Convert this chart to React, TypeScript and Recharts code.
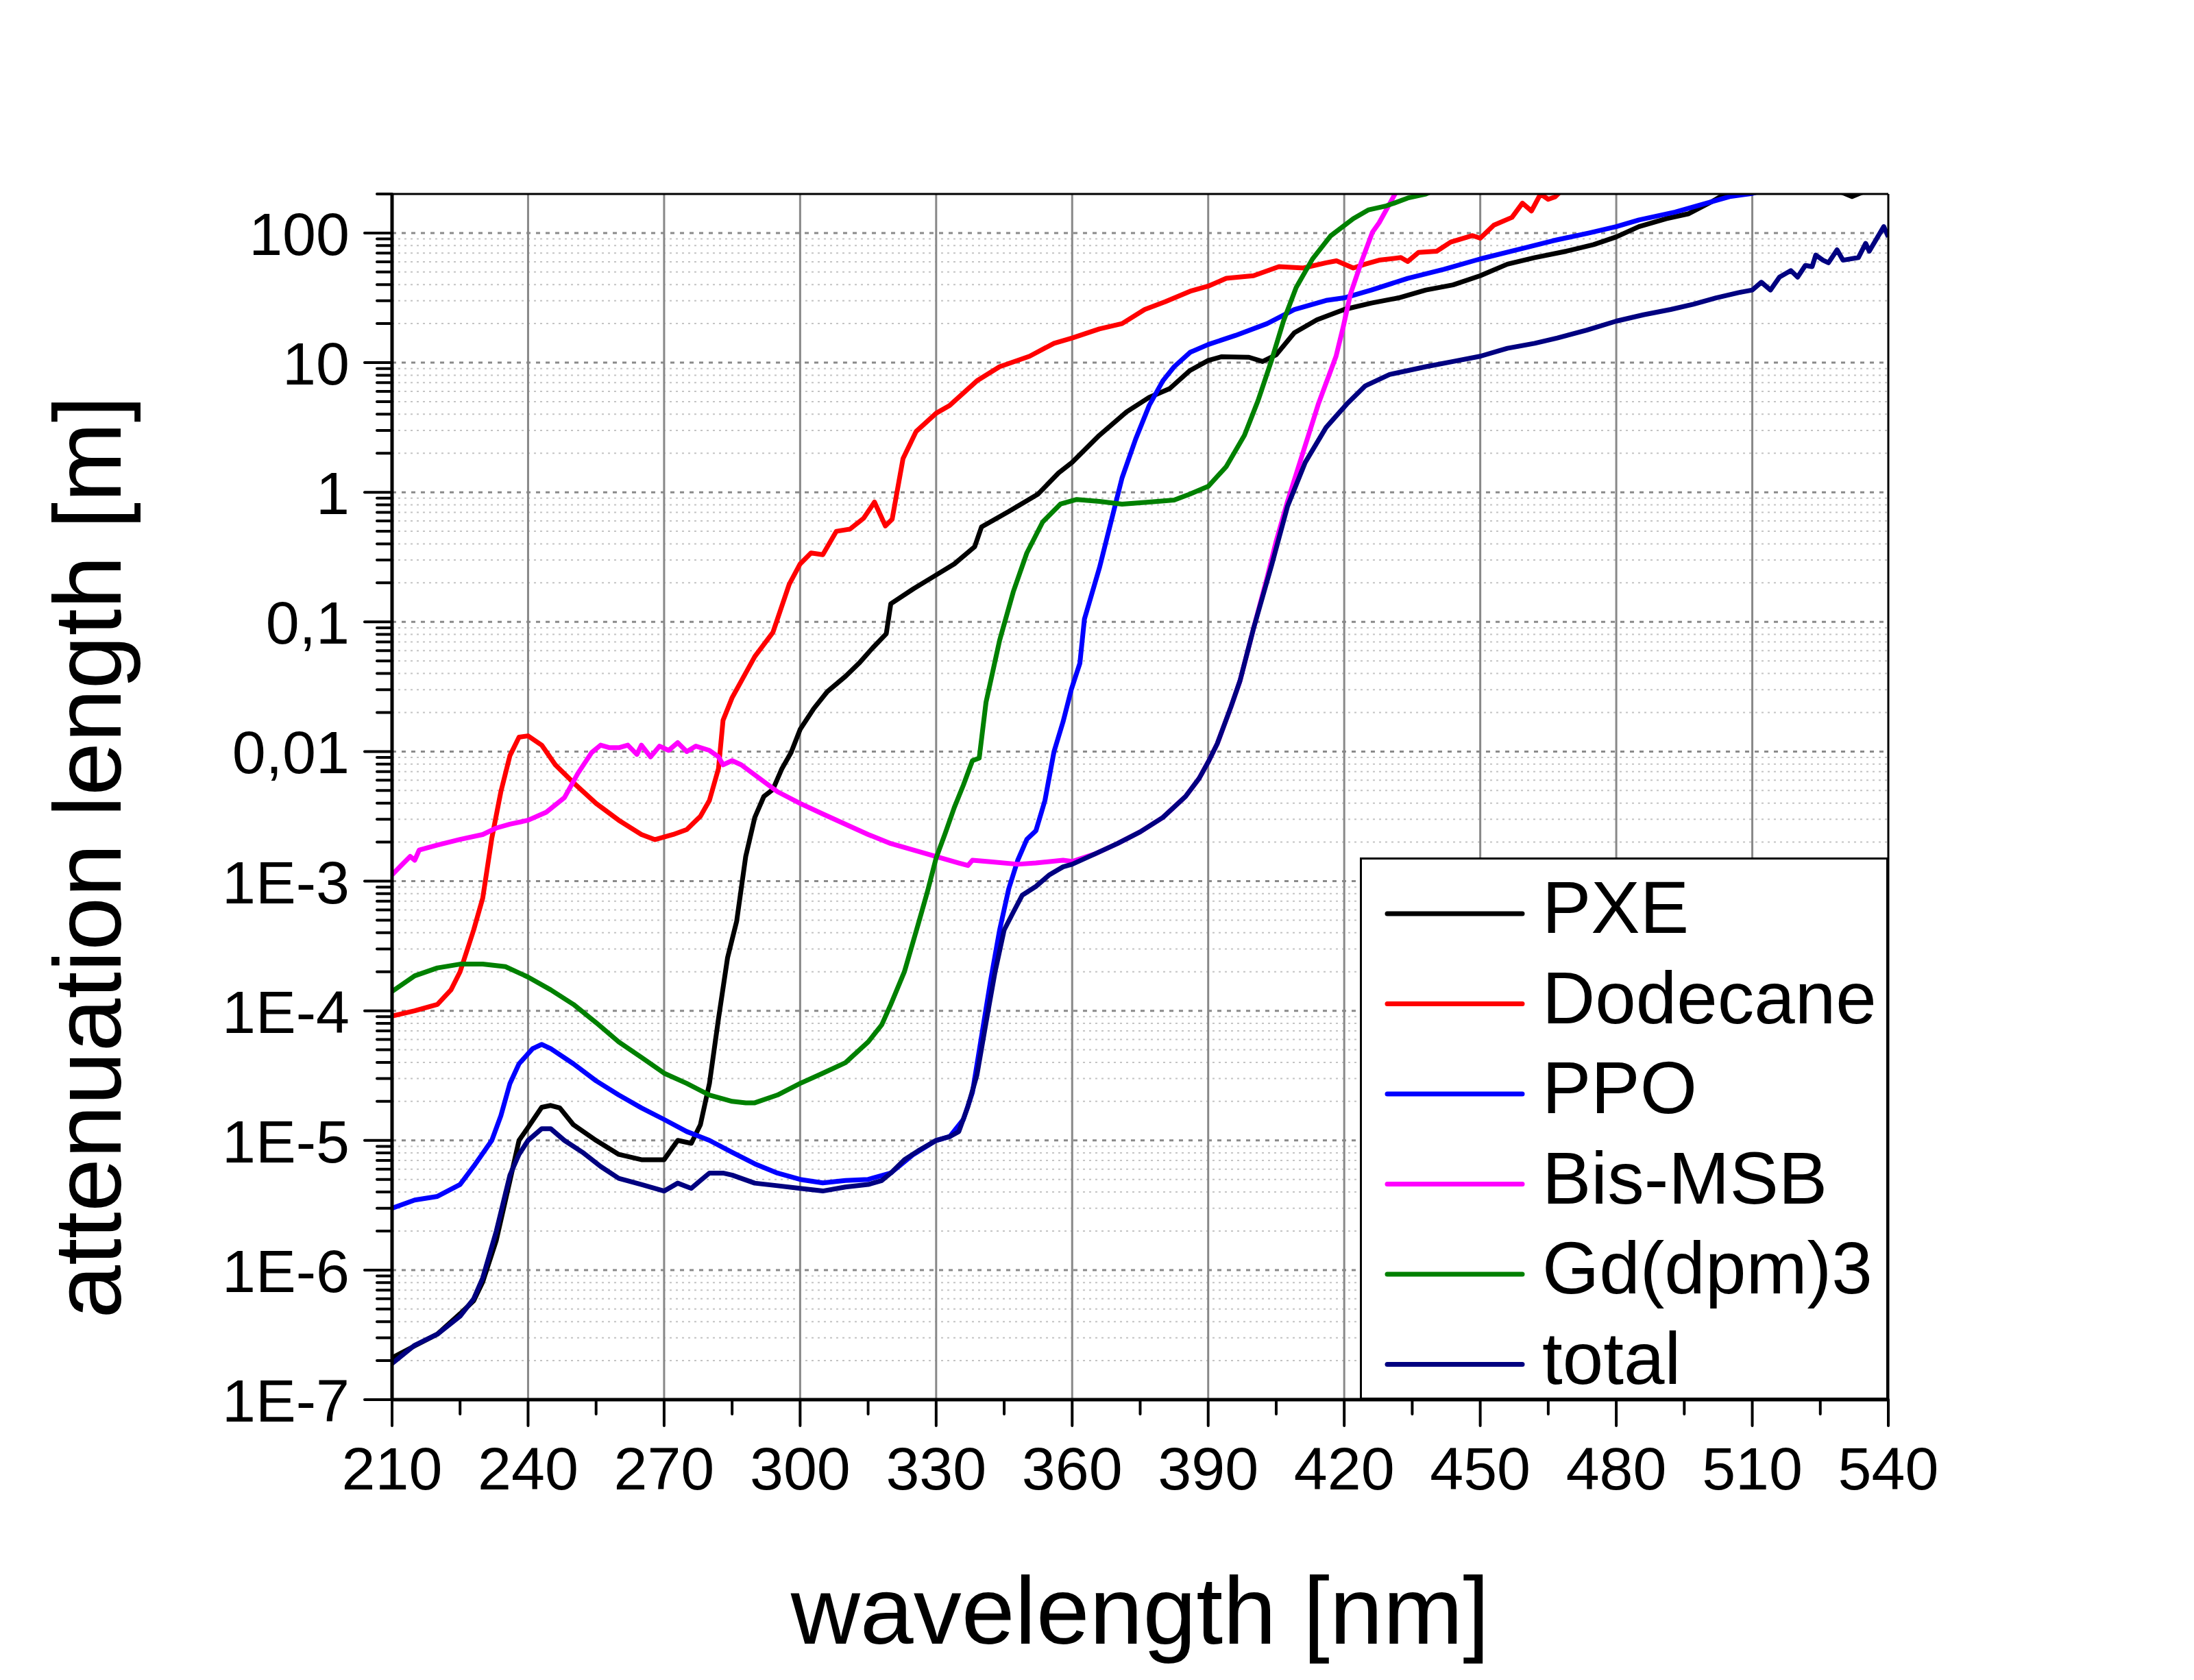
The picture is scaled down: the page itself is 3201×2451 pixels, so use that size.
import React from "react";
import { LineChart, Line, XAxis, YAxis, ReferenceLine, Legend } from "recharts";

// wavelength [nm] / attenuation length [m]
const pxeNm = [210, 215, 220, 225, 228, 230, 233, 236, 238, 240, 243, 245, 247, 250, 255, 260, 265, 270, 273, 276, 278, 280, 282, 284, 286, 288, 290, 292, 294, 296, 298, 300, 303, 306, 310, 313, 316, 319, 320, 325, 330, 334, 338.5, 340, 346, 352.5, 357, 360, 366, 372, 377, 381.5, 386, 390, 393, 399, 402, 405, 409, 414, 420, 426, 432, 438, 444, 450, 456, 462, 469, 475, 480, 485, 491, 496, 501, 504, 508, 515, 525, 530, 532, 534, 540];
const pxeAtt = [2.1e-7, 2.6e-7, 3.2e-7, 4.6e-7, 5.8e-7, 8.1e-7, 1.7e-6, 4.9e-6, 1.0e-5, 1.26e-5, 1.8e-5, 1.86e-5, 1.78e-5, 1.32e-5, 1.0e-5, 7.8e-6, 7.1e-6, 7.1e-6, 1.0e-5, 9.5e-6, 1.32e-5, 2.75e-5, 8.7e-5, 2.57e-4, 4.9e-4, 1.55e-3, 3.1e-3, 4.5e-3, 5.1e-3, 7.4e-3, 9.8e-3, 0.0148, 0.0214, 0.029, 0.038, 0.048, 0.063, 0.081, 0.138, 0.18, 0.23, 0.28, 0.38, 0.54, 0.71, 0.97, 1.41, 1.7, 2.75, 4.17, 5.4, 6.3, 8.7, 10.4, 11.1, 11.0, 10.2, 11.5, 17.0, 21.4, 25.7, 28.8, 31.6, 36.3, 39.8, 46.8, 57.5, 64.6, 72.4, 81.3, 93.3, 112, 129, 141, 174, 200, 229, 263, 251, 204, 191, 204, 263];

const dodNm = [210, 215, 220, 223, 225, 228, 230, 232, 234, 236, 238, 240, 243, 246, 250, 255, 260, 265, 268, 272, 275, 278, 280, 282, 283, 285, 290, 294, 297.6, 300, 302.4, 305, 308, 311, 314, 316.4, 318.8, 320.3, 322.7, 325.6, 330, 333, 339, 344, 350.6, 356, 360, 366, 371, 376, 380.5, 386, 390, 394, 400, 405.6, 411, 416, 418.3, 422, 424.6, 427.7, 432.5, 434, 436.4, 440.4, 443.5, 448.3, 450, 453, 457, 459.3, 461.3, 463.3, 465, 466.5, 468, 475];
const dodAtt = [9.1e-5, 1.0e-4, 1.12e-4, 1.45e-4, 2.0e-4, 4.2e-4, 7.4e-4, 2.14e-3, 4.9e-3, 9.3e-3, 0.0129, 0.0132, 0.0112, 7.9e-3, 5.75e-3, 3.98e-3, 2.95e-3, 2.29e-3, 2.09e-3, 2.29e-3, 2.5e-3, 3.16e-3, 4.2e-3, 7.4e-3, 0.0174, 0.026, 0.054, 0.083, 0.195, 0.28, 0.34, 0.33, 0.5, 0.52, 0.63, 0.84, 0.55, 0.62, 1.82, 2.95, 4.07, 4.68, 7.24, 9.3, 11.2, 14.1, 15.5, 18.2, 20.0, 25.7, 29.5, 35.5, 38.9, 44.7, 46.8, 55.0, 53.7, 58.9, 61, 53.7, 57.5, 61.7, 64.6, 60.3, 70.8, 72.4, 85.1, 95.5, 91.2, 115, 132, 170, 148, 200, 182, 190, 214, 282];

const ppoNm = [210, 215, 220, 225, 228, 232, 234, 236, 238, 241, 243, 245, 250, 255, 260, 265, 270, 275, 280, 285, 290, 295, 300, 305, 310, 315, 320, 325, 330, 333, 336, 338, 340, 342, 344, 346, 348, 350, 352, 354, 356, 358, 359.8, 361.7, 362.7, 366, 369, 371, 374, 377, 380, 382.5, 386, 390, 396, 403, 409, 416, 420, 426, 434, 442, 450, 458, 466, 474, 480, 485, 493, 501, 505, 510, 520, 540];
const ppoAtt = [3.0e-6, 3.47e-6, 3.7e-6, 4.57e-6, 6.3e-6, 1.0e-5, 1.55e-5, 2.75e-5, 3.9e-5, 5.1e-5, 5.5e-5, 5.1e-5, 3.9e-5, 2.88e-5, 2.24e-5, 1.78e-5, 1.45e-5, 1.17e-5, 1.0e-5, 8.1e-6, 6.6e-6, 5.6e-6, 5.0e-6, 4.7e-6, 4.9e-6, 5.0e-6, 5.6e-6, 7.8e-6, 1.0e-5, 1.07e-5, 1.45e-5, 2.34e-5, 6.3e-5, 1.7e-4, 4.2e-4, 8.7e-4, 1.45e-3, 2.1e-3, 2.45e-3, 4.2e-3, 0.01, 0.017, 0.03, 0.048, 0.105, 0.26, 0.68, 1.29, 2.57, 4.68, 7.24, 9.3, 12.0, 13.8, 16.2, 20.0, 25.7, 30.2, 31.6, 36.3, 44.7, 52.5, 63.1, 74.1, 87.1, 100, 112, 126, 145, 174, 191, 202, 251, 355];

const bisNm = [210, 212, 214, 215, 216, 220, 225, 230, 233, 236, 240, 244, 248, 251, 254, 256, 258, 260, 262, 264, 265, 267, 269, 271, 273, 275, 277, 280, 282, 283, 285, 287, 290, 295, 300, 305, 310, 315, 320, 325, 330, 335, 337, 338, 342, 348, 352, 358, 360, 365, 370, 375, 380, 385, 388, 390, 392, 395, 397, 400, 403, 405, 407.5, 409.4, 414.3, 418.2, 419.8, 421.4, 423.8, 426.2, 427.7, 430.1, 431.2, 435];
const bisAtt = [1.12e-3, 1.32e-3, 1.55e-3, 1.45e-3, 1.74e-3, 1.9e-3, 2.1e-3, 2.29e-3, 2.57e-3, 2.75e-3, 2.95e-3, 3.4e-3, 4.4e-3, 6.8e-3, 9.8e-3, 0.0112, 0.0107, 0.0107, 0.0112, 9.5e-3, 0.0112, 9.1e-3, 0.011, 0.0102, 0.0117, 0.01, 0.011, 0.0102, 9.1e-3, 7.9e-3, 8.5e-3, 7.9e-3, 6.6e-3, 4.9e-3, 3.98e-3, 3.3e-3, 2.75e-3, 2.29e-3, 1.95e-3, 1.74e-3, 1.55e-3, 1.38e-3, 1.32e-3, 1.45e-3, 1.41e-3, 1.35e-3, 1.38e-3, 1.45e-3, 1.42e-3, 1.62e-3, 1.95e-3, 2.4e-3, 3.1e-3, 4.5e-3, 6.2e-3, 8.3e-3, 0.0115, 0.022, 0.035, 0.089, 0.22, 0.42, 0.85, 1.38, 4.8, 11.2, 19, 34, 60, 101, 120, 170, 200, 320];

const gdNm = [210, 215, 220, 225, 230, 235, 240, 245, 250, 255, 260, 265, 270, 275, 280, 285, 288, 290, 295, 300, 305, 310, 315, 318, 320, 323, 326, 328, 330, 332, 334, 336, 338, 339.5, 341, 344, 347, 350, 353.5, 357.4, 361, 366, 371, 377, 382.5, 386, 390, 394, 398, 401, 404, 406.6, 409.4, 413, 417, 422, 425.4, 429.3, 431, 434, 438, 442, 450];
const gdAtt = [1.41e-4, 1.86e-4, 2.14e-4, 2.29e-4, 2.29e-4, 2.19e-4, 1.82e-4, 1.45e-4, 1.12e-4, 8.1e-5, 5.75e-5, 4.37e-5, 3.3e-5, 2.75e-5, 2.24e-5, 2.0e-5, 1.95e-5, 1.95e-5, 2.24e-5, 2.75e-5, 3.3e-5, 3.98e-5, 5.75e-5, 7.8e-5, 1.12e-4, 2.0e-4, 4.6e-4, 8.1e-4, 1.51e-3, 2.34e-3, 3.7e-3, 5.5e-3, 8.5e-3, 8.9e-3, 0.024, 0.072, 0.17, 0.34, 0.59, 0.81, 0.88, 0.85, 0.81, 0.84, 0.87, 0.97, 1.11, 1.58, 2.75, 5.1, 10.5, 20.9, 38, 63, 95, 129, 151, 162, 170, 186, 200, 229, 282];

const totNm = [210, 215, 220, 225, 228, 230, 233, 236, 238, 240, 243, 245, 248, 252, 256, 260, 265, 270, 273, 276, 278, 280, 283, 285, 290, 295, 300, 305, 310, 315, 318, 320, 323, 326, 330, 333, 335, 337, 339, 341, 343, 345, 347, 349, 352, 355, 358, 360, 365, 370, 375, 380, 385, 388, 390, 392, 395, 397, 400, 404, 407.5, 411.4, 416, 418.3, 420.6, 424.6, 430, 438, 444, 450, 456, 462, 467, 473.5, 480, 486, 492, 497, 502, 507, 510, 512, 514, 516, 518.5, 520, 521.7, 523.2, 524, 525.6, 526.8, 528.7, 530, 533.4, 535, 535.8, 539, 540];
const totAtt = [1.9e-7, 2.63e-7, 3.2e-7, 4.4e-7, 6.0e-7, 8.7e-7, 2.0e-6, 5.4e-6, 7.8e-6, 1.0e-5, 1.23e-5, 1.23e-5, 1.0e-5, 8.1e-6, 6.3e-6, 5.1e-6, 4.57e-6, 4.07e-6, 4.68e-6, 4.27e-6, 4.9e-6, 5.6e-6, 5.6e-6, 5.4e-6, 4.68e-6, 4.47e-6, 4.27e-6, 4.07e-6, 4.37e-6, 4.57e-6, 4.9e-6, 5.6e-6, 7.1e-6, 8.3e-6, 1.0e-5, 1.07e-5, 1.17e-5, 1.82e-5, 3.2e-5, 8.1e-5, 2.0e-4, 4.2e-4, 5.75e-4, 7.8e-4, 9.1e-4, 1.12e-3, 1.29e-3, 1.35e-3, 1.62e-3, 1.95e-3, 2.4e-3, 3.1e-3, 4.5e-3, 6.2e-3, 8.3e-3, 0.0115, 0.022, 0.035, 0.089, 0.275, 0.78, 1.7, 3.16, 3.9, 4.8, 6.6, 8.1, 9.3, 10.2, 11.2, 12.9, 14.1, 15.5, 17.8, 20.9, 23.4, 25.7, 28.2, 31.6, 34.7, 36.3, 41.7, 36.3, 45.7, 51.3, 45.7, 56.2, 55, 67.6, 61.7, 58.9, 74.1, 61.7, 64.6, 83.2, 72.4, 112, 93.3];

const xMajor = [210, 240, 270, 300, 330, 360, 390, 420, 450, 480, 510, 540];
const xMinor = [225, 255, 285, 315, 345, 375, 405, 435, 465, 495, 525];
const xGrid = [240, 270, 300, 330, 360, 390, 420, 450, 480, 510];
const yDecades = [1e-7, 1e-6, 1e-5, 1e-4, 1e-3, 0.01, 0.1, 1, 10, 100];
const yLabels = ["1E-7", "1E-6", "1E-5", "1E-4", "1E-3", "0,01", "0,1", "1", "10", "100"];
const yMinor = yDecades.flatMap((d) => [2, 3, 4, 5, 6, 7, 8, 9].map((m) => m * d)).filter((v) => v <= 200.0001);

const zip = (nm: number[], att: number[]) => nm.map((x, i) => ({ nm: x, att: att[i] }));

const series = [
  { name: "PXE", color: "#000000", data: zip(pxeNm, pxeAtt) },
  { name: "Dodecane", color: "#ff0000", data: zip(dodNm, dodAtt) },
  { name: "PPO", color: "#0000ff", data: zip(ppoNm, ppoAtt) },
  { name: "Bis-MSB", color: "#ff00ff", data: zip(bisNm, bisAtt) },
  { name: "Gd(dpm)3", color: "#008000", data: zip(gdNm, gdAtt) },
  { name: "total", color: "#000080", data: zip(totNm, totAtt) },
];

const W = 3201;
const H = 2451;
const PLOT = { left: 572, right: 2755, top: 283, bottom: 2042 };
const Y_AXIS_W = 300;
const X_AXIS_H = 200;
const FONT = "'Liberation Sans', Arial, Helvetica, sans-serif";

function XTick({ x, payload }: any) {
  const major = xMajor.includes(payload.value);
  const len = major ? 38 : 21;
  return (
    <g>
      <line x1={x} x2={x} y1={PLOT.bottom} y2={PLOT.bottom + len} stroke="#000" strokeWidth={4} strokeLinecap="round" />
      {major && (
        <text x={x} y={PLOT.bottom + 131} textAnchor="middle" fontSize={88} fontFamily={FONT} fill="#000">
          {payload.value}
        </text>
      )}
    </g>
  );
}

function YTick({ y, payload }: any) {
  const i = yDecades.findIndex((d) => Math.abs(payload.value - d) / d < 1e-6);
  const major = i >= 0;
  const len = major ? 40 : 22;
  return (
    <g>
      <line x1={PLOT.left - len} x2={PLOT.left} y1={y} y2={y} stroke="#000" strokeWidth={4} strokeLinecap="round" />
      {major && (
        <text x={PLOT.left - 62} y={y + 32} textAnchor="end" fontSize={88} fontFamily={FONT} fill="#000">
          {yLabels[i]}
        </text>
      )}
    </g>
  );
}

function XTitle({ viewBox }: any) {
  const cx = viewBox.x + viewBox.width / 2;
  return (
    <text x={cx} y={PLOT.bottom + 356} textAnchor="middle" fontSize={140} fontFamily={FONT} fill="#000">
      wavelength [nm]
    </text>
  );
}

function YTitle({ viewBox }: any) {
  const cy = viewBox.y + viewBox.height / 2 + 88;
  const x = PLOT.left - 396;
  return (
    <text x={x} y={cy} transform={`rotate(-90, ${x}, ${cy})`} textAnchor="middle" fontSize={140} fontFamily={FONT} fill="#000">
      attenuation length [m]
    </text>
  );
}

const LEG = { left: 1984, top: 1251, width: PLOT.right - 1984, height: PLOT.bottom - 1251 };

function LegendBox() {
  return (
    <svg width={LEG.width} height={LEG.height} style={{ display: "block" }}>
      <rect x={1.5} y={1.5} width={LEG.width - 3} height={LEG.height - 3} fill="#fff" stroke="#000" strokeWidth={3} />
      {series.map((s, i) => {
        const cy = 82 + i * 131.5;
        return (
          <g key={s.name}>
            <line x1={40} x2={237} y1={cy} y2={cy} stroke={s.color} strokeWidth={7} strokeLinecap="round" />
            <text x={266} y={cy + 28} fontSize={107} fontFamily={FONT} fill="#000">
              {s.name}
            </text>
          </g>
        );
      })}
    </svg>
  );
}

export default function App() {
  return (
    <div style={{ position: "absolute", left: 0, top: 0, width: W, height: H, background: "#fff" }}>
      <LineChart
        width={W}
        height={H}
        margin={{ top: PLOT.top, right: W - PLOT.right, bottom: H - PLOT.bottom - X_AXIS_H, left: PLOT.left - Y_AXIS_W }}
      >
        <XAxis
          dataKey="nm"
          type="number"
          domain={[210, 540]}
          ticks={[...xMajor, ...xMinor].sort((a, b) => a - b)}
          interval={0}
          allowDataOverflow
          height={X_AXIS_H}
          tickLine={false}
          axisLine={{ stroke: "#000", strokeWidth: 5 }}
          tick={<XTick />}
          label={XTitle}
        />
        <YAxis
          dataKey="att"
          type="number"
          scale="log"
          domain={[1e-7, 200]}
          ticks={[...yDecades, ...yMinor].sort((a, b) => a - b)}
          interval={0}
          allowDataOverflow
          width={Y_AXIS_W}
          tickLine={false}
          axisLine={{ stroke: "#000", strokeWidth: 5 }}
          tick={<YTick />}
          label={YTitle}
        />
        {yMinor.map((v) => (
          <ReferenceLine key={"m" + v} y={v} stroke="#c4c4c4" strokeWidth={2} strokeDasharray="3 6" zIndex={-20} />
        ))}
        {yDecades.slice(1).map((v) => (
          <ReferenceLine key={"d" + v} y={v} stroke="#8a8a8a" strokeWidth={3} strokeDasharray="6 8" zIndex={-10} />
        ))}
        {xGrid.map((v) => (
          <ReferenceLine key={"x" + v} x={v} stroke="#888888" strokeWidth={3} zIndex={-10} />
        ))}
        {series.map((s) => (
          <Line
            key={s.name}
            data={s.data}
            dataKey="att"
            name={s.name}
            type="linear"
            stroke={s.color}
            strokeWidth={7}
            strokeLinejoin="round"
            dot={false}
            activeDot={false}
            isAnimationActive={false}
          />
        ))}
        <ReferenceLine y={200} stroke="#000" strokeWidth={3} />
        <ReferenceLine x={540} stroke="#000" strokeWidth={3} />
        <Legend
          layout="vertical"
          align="center"
          verticalAlign="middle"
          content={() => <LegendBox />}
          wrapperStyle={{ left: LEG.left, top: LEG.top, width: LEG.width, height: LEG.height, right: "auto", bottom: "auto" }}
        />
      </LineChart>
    </div>
  );
}
